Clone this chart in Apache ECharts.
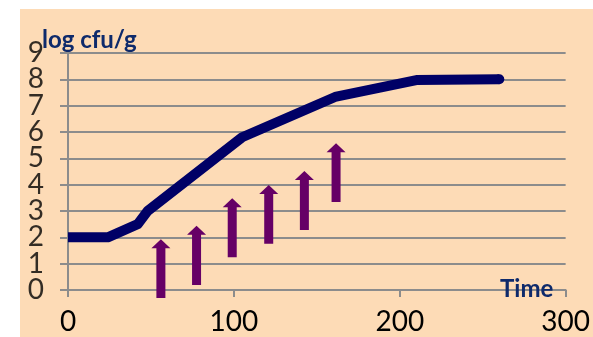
<!DOCTYPE html>
<html>
<head>
<meta charset="utf-8">
<script src="https://cdn.jsdelivr.net/npm/echarts@6/dist/echarts.min.js"></script>
<style>
html,body{margin:0;padding:0;background:#fff;}
#c{width:593px;height:337px;}
</style>
</head>
<body>
<div id="c"></div>
<script>
// Growth curve (time, log cfu/g)
var curveTime = [0, 24, 42, 48, 105, 161, 210, 260];
var curveLog  = [2, 2, 2.5, 3.0, 5.8, 7.33, 7.97, 8.0];
// Arrows: time, bottom, tip (log cfu/g)
var arrowTime = [56, 77.5, 99, 121, 142.5, 161.6];
var arrowFrom = [-0.3, 0.19, 1.24, 1.76, 2.28, 3.34];
var arrowTo   = [1.93, 2.44, 3.48, 3.99, 4.52, 5.57];
// Y tick labels (log cfu/g)
var yTicks = [0, 1, 2, 3, 4, 5, 6, 7, 8, 9];
var yAxisTitle = 'log cfu/g';
var xAxisTitle = 'Time';

var curveData = curveTime.map(function (t, i) {
  var item = { value: [t, curveLog[i]] };
  if (i === curveTime.length - 1) { item.symbol = 'circle'; item.symbolSize = 10; }
  return item;
});
var arrowData = arrowTime.map(function (t, i) { return [t, arrowFrom[i], arrowTo[i]]; });
var yTickData = yTicks.map(function (v) { return [0, v]; });

var chart = echarts.init(document.getElementById('c'));
var gray = '#8c8c8c';
chart.setOption({
  backgroundColor: '#ffffff',
  animation: false,
  graphic: [
    { type: 'rect', z: -10, silent: true, shape: { x: 20, y: 9, width: 573, height: 328 }, style: { fill: '#FDDBB6' } },
    { type: 'text', z: 10, left: 42, top: 28, style: { text: yAxisTitle, fill: '#0E2A6B', font: 'bold 24px Lato' } },
    { type: 'text', z: 10, left: 500, top: 277, style: { text: xAxisTitle, fill: '#0E2A6B', font: 'bold 24px Lato' } }
  ],
  grid: { left: 68, right: 23, top: 53, bottom: 47 },
  xAxis: {
    type: 'value', min: 0, max: 300, interval: 100,
    axisLine: { show: true, lineStyle: { color: gray, width: 2 } },
    axisTick: { show: true, length: 7, lineStyle: { color: gray, width: 2 } },
    axisLabel: { color: '#000', fontFamily: 'Lato', fontSize: 28, margin: 18, showMinLabel: true, showMaxLabel: true, hideOverlap: false },
    splitLine: { show: false }
  },
  yAxis: {
    type: 'value', min: 0, max: 9, interval: 1,
    axisLine: { show: true, lineStyle: { color: gray, width: 2 } },
    axisTick: { show: true, length: 8, lineStyle: { color: gray, width: 2 } },
    axisLabel: { show: false },
    splitLine: { show: true, lineStyle: { color: gray, width: 2 } }
  },
  series: [
    {
      type: 'scatter',
      data: yTickData,
      symbolSize: 0,
      silent: true,
      z: 5,
      label: {
        show: true, position: 'left', distance: 24,
        color: '#000', fontFamily: 'Lato', fontSize: 28,
        formatter: function (p) { return String(p.value[1]); }
      },
      labelLayout: { hideOverlap: false }
    },
    {
      type: 'line',
      data: curveData,
      symbol: 'none',
      showSymbol: true,
      itemStyle: { color: '#000066' },
      lineStyle: { color: '#000066', width: 10, cap: 'butt', join: 'round' },
      z: 3
    },
    {
      type: 'custom',
      clip: false,
      z: 4,
      data: arrowData,
      renderItem: function (params, api) {
        var bottom = api.coord([api.value(0), api.value(1)]);
        var tip = api.coord([api.value(0), api.value(2)]);
        var cx = tip[0];
        var sw = 4.5, hw = 9.5, hh = 9;
        var pts = [
          [cx - sw, bottom[1]],
          [cx - sw, tip[1] + hh],
          [cx - hw, tip[1] + hh],
          [cx, tip[1]],
          [cx + hw, tip[1] + hh],
          [cx + sw, tip[1] + hh],
          [cx + sw, bottom[1]]
        ];
        return { type: 'polygon', shape: { points: pts }, style: { fill: '#660066' } };
      }
    }
  ]
});
</script>
</body>
</html>
